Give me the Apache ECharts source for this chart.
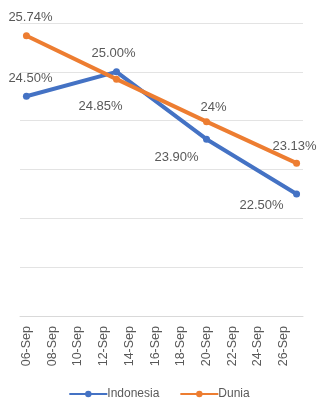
<!DOCTYPE html>
<html>
<head>
<meta charset="utf-8">
<script src="https://cdn.jsdelivr.net/npm/echarts@6/dist/echarts.min.js"></script>
<style>
  html, body { margin: 0; padding: 0; background: #fff; }
  #chart { width: 318px; height: 401px; }
</style>
</head>
<body>
<div id="chart"></div>
<script>
// tanggal harian 06-Sep .. 27-Sep (label tiap 2 hari)
var days = [];
for (var d = 6; d <= 27; d++) {
  days.push((d < 10 ? '0' + d : '' + d) + '-Sep');
}
var pointDays = ['06-Sep', '13-Sep', '20-Sep', '27-Sep'];
var indonesiaValues = [24.50, 25.00, 23.62, 22.50];
var indonesiaLabels = ['24.50%', '25.00%', '23.90%', '22.50%'];
var duniaValues = [25.74, 24.85, 23.98, 23.13];
var duniaLabels = ['25.74%', '24.85%', '24%', '23.13%'];

function toSeries(values, labels, labelStyles) {
  return days.map(function(day) {
    var i = pointDays.indexOf(day);
    if (i < 0) return null;
    return { value: values[i], labelText: labels[i], label: labelStyles[i] };
  });
}

var indonesiaLabelPos = [
  { position: 'top', distance: 8, offset: [4, 0] },
  { position: 'top', distance: 8, offset: [-3, 0] },
  { position: 'bottom', offset: [-30, 3] },
  { position: 'bottom', offset: [-35, -3] }
];
var duniaLabelPos = [
  { position: 'top', distance: 8, offset: [4, 0] },
  { position: 'bottom', offset: [-16, 12] },
  { position: 'top', distance: 4, offset: [7, 0] },
  { position: 'top', distance: 7, offset: [-2, 0] }
];

var chart = echarts.init(document.getElementById('chart'));
var fontFam = 'Liberation Sans, Arial, sans-serif';
var labelBase = {
  show: true,
  color: '#595959',
  fontSize: 13,
  fontFamily: fontFam,
  formatter: function(p) { return p.data.labelText; }
};

chart.setOption({
  animation: false,
  grid: { top: 23, left: 20, right: 15, bottom: 85 },
  legend: {
    bottom: 1,
    padding: 0,
    left: 'center',
    itemWidth: 38,
    itemHeight: 8,
    itemGap: 20,
    textStyle: { color: '#595959', fontSize: 12, fontFamily: fontFam, padding: [0, 0, 0, -5] },
    data: ['Indonesia', 'Dunia']
  },
  xAxis: {
    type: 'category',
    data: days,
    boundaryGap: true,
    axisLine: { lineStyle: { color: '#d9d9d9' } },
    axisTick: { show: false },
    axisLabel: {
      interval: 1,
      rotate: 90,
      color: '#595959',
      fontSize: 12.5,
      margin: 10,
      fontFamily: fontFam
    }
  },
  yAxis: {
    type: 'value',
    min: 20,
    max: 26,
    interval: 1,
    axisLabel: { show: false },
    axisLine: { show: false },
    axisTick: { show: false },
    splitLine: { lineStyle: { color: '#e3e3e3' } }
  },
  series: [
    {
      name: 'Indonesia',
      type: 'line',
      connectNulls: true,
      symbol: 'circle',
      symbolSize: 7,
      lineStyle: { width: 4, color: '#4472C4' },
      itemStyle: { color: '#4472C4' },
      label: labelBase,
      data: toSeries(indonesiaValues, indonesiaLabels, indonesiaLabelPos)
    },
    {
      name: 'Dunia',
      type: 'line',
      connectNulls: true,
      symbol: 'circle',
      symbolSize: 7,
      lineStyle: { width: 4, color: '#ED7D31' },
      itemStyle: { color: '#ED7D31' },
      label: labelBase,
      data: toSeries(duniaValues, duniaLabels, duniaLabelPos)
    }
  ]
});
</script>
</body>
</html>
